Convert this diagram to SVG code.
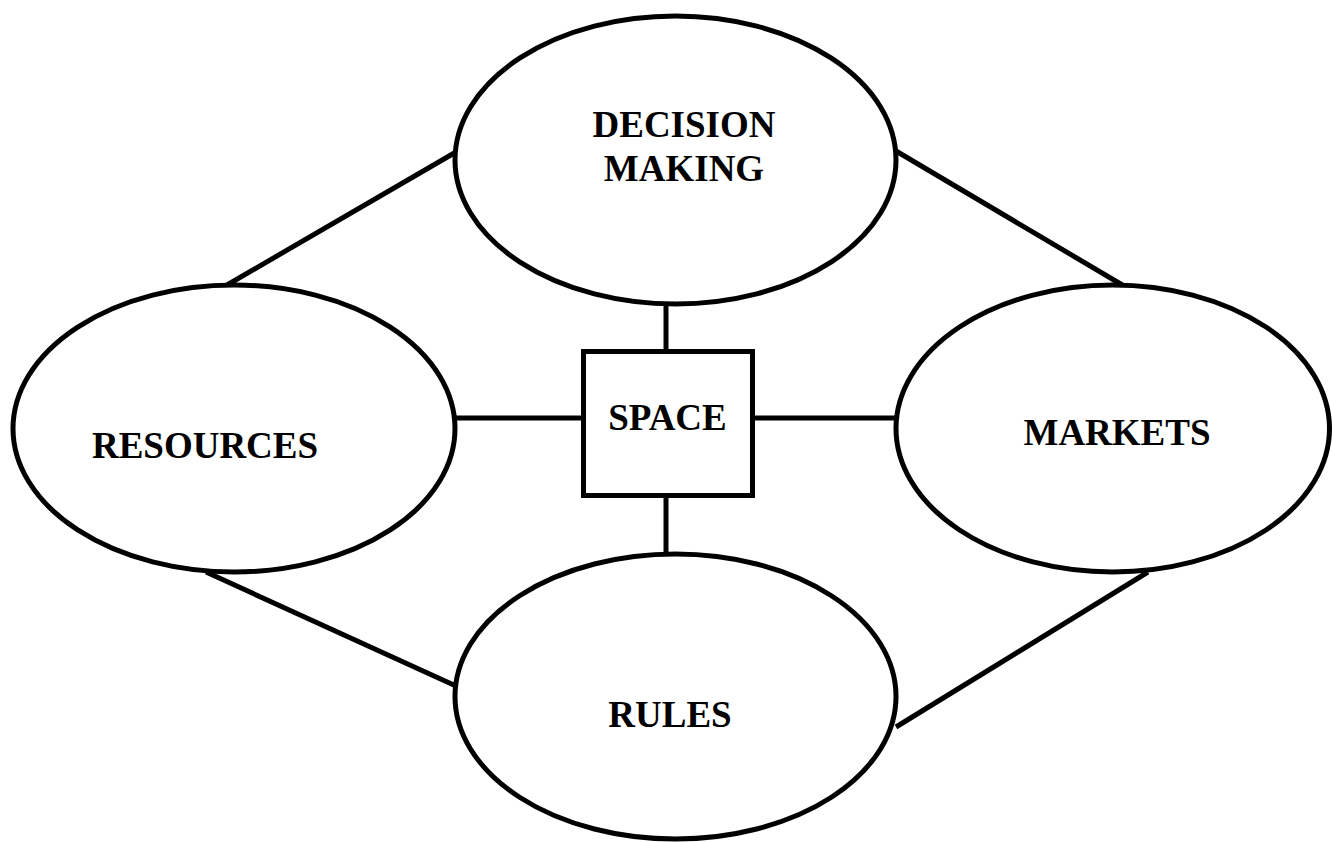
<svg xmlns="http://www.w3.org/2000/svg" width="1332" height="842" viewBox="0 0 1332 842">
  <style>
    .shape { fill: #ffffff; stroke: #000000; stroke-width: 5; }
    .link { stroke: #000000; stroke-width: 5; fill: none; }
    .label { font-family: "Liberation Serif", "Times New Roman", serif; font-weight: bold; font-size: 37px; fill: #000000; }
  </style>
  <rect width="1332" height="842" fill="#ffffff"/>

  <!-- connectors -->
  <g id="connectors">
    <line class="link" x1="227" y1="285" x2="456" y2="152"/>
    <line class="link" x1="896" y1="151" x2="1124" y2="286"/>
    <line class="link" x1="206" y1="572" x2="456" y2="686"/>
    <line class="link" x1="896" y1="727" x2="1148" y2="572"/>
    <line class="link" x1="666" y1="300" x2="666" y2="352"/>
    <line class="link" x1="666" y1="495" x2="666" y2="556"/>
    <line class="link" x1="453" y1="418" x2="584" y2="418"/>
    <line class="link" x1="752" y1="418" x2="898" y2="418"/>
  </g>

  <!-- nodes -->
  <g id="decision-making">
    <ellipse class="shape" cx="675.5" cy="160" rx="220.5" ry="144"/>
    <text class="label" x="684" y="137" text-anchor="middle">DECISION</text>
    <text class="label" x="684" y="181" text-anchor="middle">MAKING</text>
  </g>

  <g id="resources">
    <ellipse class="shape" cx="234" cy="428.5" rx="221" ry="143.5"/>
    <text class="label" x="205" y="458" text-anchor="middle">RESOURCES</text>
  </g>

  <g id="markets">
    <ellipse class="shape" cx="1112.75" cy="428.5" rx="216.75" ry="143.5"/>
    <text class="label" x="1117" y="445" text-anchor="middle">MARKETS</text>
  </g>

  <g id="rules">
    <ellipse class="shape" cx="675.5" cy="696.5" rx="220.5" ry="142.5"/>
    <text class="label" x="670" y="727" text-anchor="middle">RULES</text>
  </g>

  <g id="space">
    <rect class="shape" x="583.5" y="351.5" width="169" height="144"/>
    <text class="label" x="667.5" y="430" text-anchor="middle">SPACE</text>
  </g>
</svg>
